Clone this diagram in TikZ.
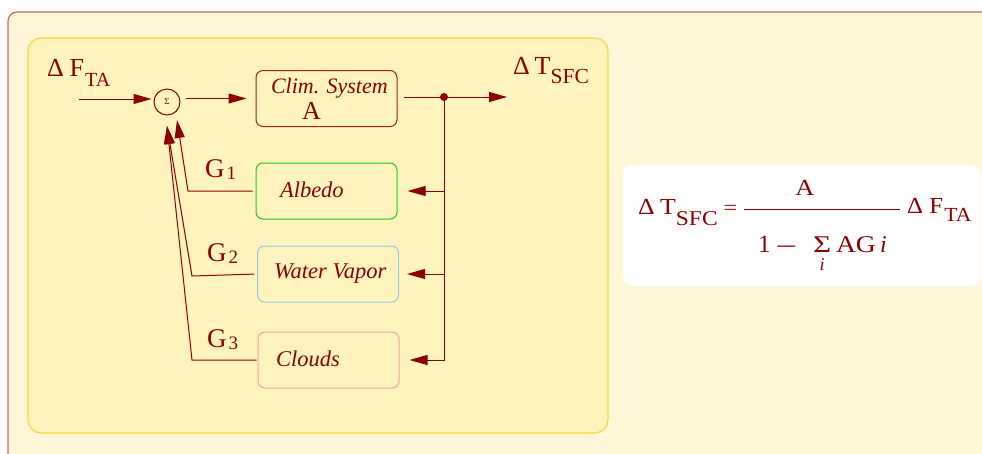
\documentclass[tikz,border=0pt]{standalone}
\usepackage{fontspec}
\setmainfont{Liberation Serif}
\usepackage{graphicx}
\usetikzlibrary{arrows.meta}
\definecolor{dred}{RGB}{139,0,0}
\definecolor{boxred}{RGB}{150,35,35}
\definecolor{outerfill}{RGB}{255,247,216}
\definecolor{outerline}{RGB}{200,105,105}
\definecolor{innerfill}{RGB}{255,244,190}
\definecolor{innerline}{RGB}{255,214,60}
\definecolor{albgreen}{RGB}{30,200,30}
\definecolor{wvblue}{RGB}{150,200,240}
\definecolor{cldpink}{RGB}{255,160,160}
\newcommand{\fsz}[1]{\fontsize{#1}{#1}\selectfont}
\begin{document}
\begin{tikzpicture}[x=1pt,y=-1pt,
  txt/.style={text=dred, inner sep=0pt, outer sep=0pt, anchor=base west},
  blk/.style={draw, rounded corners=7pt, line width=1pt, minimum width=141pt, minimum height=56pt, inner sep=0pt},
  wire/.style={draw=dred, line width=1pt},
  arr/.style={wire, -{Triangle[length=18pt,width=10pt]}},
]
\clip (0,0) rectangle (982,453);
\fill[white] (0,0) rectangle (982,453);
\draw[outerline, fill=outerfill, line width=1.2pt, rounded corners=9pt] (8,12) rectangle (1010,480);
\draw[innerline, fill=innerfill, line width=1.2pt, rounded corners=13pt] (28,38) rectangle (608,433);
\fill[white, rounded corners=9pt] (623,165) rectangle (981,286);

% blocks
\node[blk, draw=boxred] (clim) at (326.5,98.5) {};
\node[blk, draw=albgreen] (alb) at (326.5,191) {};
\node[blk, draw=wvblue] (wv) at (328,274) {};
\node[blk, draw=cldpink] (cld) at (328.5,360) {};

\node[txt, font=\fsz{22}\itshape] (climt) at (271,93) {Clim. System};
\node[txt, font=\fsz{26}] (climA) at (302,119) {A};
\node[txt, font=\fsz{22.5}\itshape] (albt) at (280,197) {Albedo};
\node[txt, font=\fsz{22.5}\itshape] (wvt) at (274,278) {Water Vapor};
\node[txt, font=\fsz{22.5}\itshape] (cldt) at (276,366) {Clouds};

\node[circle, draw=dred, line width=1pt, minimum size=26pt, inner sep=0pt, text=dred, font=\fsz{9}] (sum) at (167,102) {Σ};

% labels
\node[txt, font=\fsz{26}] (dF) at (47,76) {Δ\kern6pt F\kern1pt\raisebox{-10pt}{\fsz{20}TA}};
\node[txt, font=\fsz{26}] (dT) at (513,74) {Δ\kern5pt T\raisebox{-9pt}{\fsz{21.5}SFC}};
\node[txt, font=\fsz{27}] (G1) at (205,177) {G\kern2pt\raisebox{-2pt}{\fsz{19}1}};
\node[txt, font=\fsz{27}] (G2) at (207,261) {G\kern2pt\raisebox{-2pt}{\fsz{19}2}};
\node[txt, font=\fsz{27}] (G3) at (207,347) {G\kern2pt\raisebox{-2pt}{\fsz{19}3}};

% connectors
\coordinate (in) at (79,99);
\draw[arr, shorten >=2pt] (in) -- (in -| sum.west);
\draw[arr, shorten <=5pt, shorten >=9pt] (sum.east |- clim.west) -- (clim.west);
\coordinate (dot) at (444,97);
\coordinate (out) at (507,97);
\draw[wire, shorten <=6pt] (clim.east |- dot) -- (dot);
\draw[arr] (dot) -- (out);
\draw[arr, shorten >=10pt] (dot) |- (cld.east);
\draw[arr, shorten >=10pt] (dot |- alb.east) -- (alb.east);
\draw[arr, shorten >=8pt] (dot |- wv.east) -- (wv.east);
\fill[dred] (dot) circle (4pt);

\coordinate (tipA) at (177,120);
\coordinate (tipB) at (167,126);
\coordinate (g1c) at (188,191);
\coordinate (g2c) at (192,276);
\coordinate (g3c) at (192,360);
\draw[arr, shorten <=3pt] (alb.west) -- (g1c) -- (tipA);
\draw[arr, shorten <=3pt] (wv.west) -- (g2c) -- (tipB);
\draw[arr, shorten <=1pt] (cld.west) -- (g3c) -- (tipB);

% formula
\node[txt, font=\fsz{23}] (fT) at (638,214) {\scalebox{1.12}[1]{Δ\kern5pt T\raisebox{-11pt}{\fsz{21}SFC}}};
\node[text=dred, inner sep=0pt, font=\fsz{20}] (feq) at (730.5,210) {\scalebox{1.2}[1]{=}};
\coordinate (barL) at (744,209);
\coordinate (barR) at (900,209);
\draw[dred, line width=1pt] (barL) -- (barR);
\node[text=dred, inner sep=0pt, anchor=base, font=\fsz{23}] (fnum) at (805,195) {\scalebox{1.15}[1]{A}};
\node[txt, font=\fsz{25}] (fone) at (758,252) {1\kern7pt\scalebox{1.4}[1]{–}};
\node[txt, font=\fsz{24}] (fsig) at (813,252) {\scalebox{1.3}[1]{Σ}};
\node[text=dred, inner sep=0pt, anchor=base, font=\fsz{18}\itshape] (fsub) at (822,270) {i};
\node[txt, font=\fsz{24}] (fAG) at (836,252) {\scalebox{1.15}[1]{AG}};
\node[txt, font=\fsz{24}\itshape] (fi) at (880,252) {i};
\node[txt, font=\fsz{23}] (fF) at (907,213) {\scalebox{1.08}[1]{Δ\kern6pt F\kern1pt\raisebox{-8pt}{\fsz{20}TA}}};
\end{tikzpicture}
\end{document}
